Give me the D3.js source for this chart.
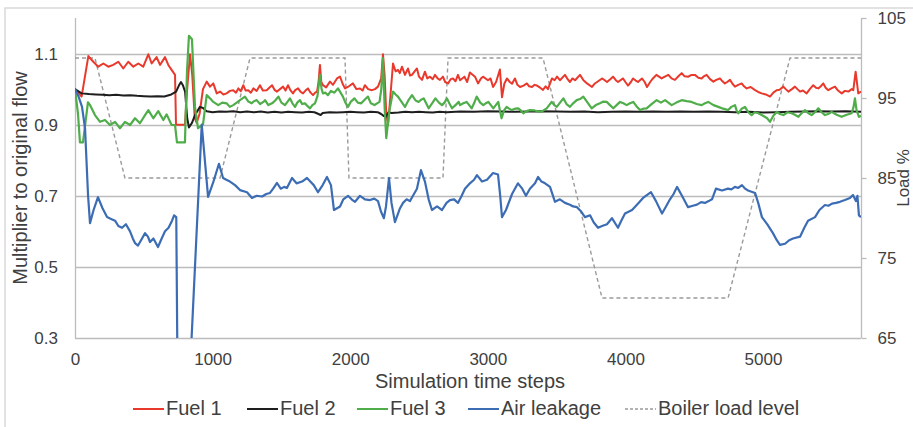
<!DOCTYPE html>
<html><head><meta charset="utf-8">
<script src="https://cdn.jsdelivr.net/npm/d3@7"></script>
<style>
body{margin:0;background:#fff}
svg{display:block}
text{font-family:"Liberation Sans",Arial,sans-serif;fill:#404040}
</style>
</head><body>
<svg id="c" width="913" height="427"></svg>
<script>
// ---------- DATA ----------
const xTicks = [0, 1000, 2000, 3000, 4000, 5000];
const leftTicks = [0.3, 0.5, 0.7, 0.9, 1.1];
const rightTicks = [65, 75, 85, 95, 105];
const xTitle = "Simulation time steps";
const yLeftTitle = "Multiplier to original flow";
const yRightTitle = "Load %";
const seriesNames = ["Fuel 1", "Fuel 2", "Fuel 3", "Air leakage", "Boiler load level"];

const fuel1 = [[0,1.0],[48,0.979],[97,1.093],[133,1.077],[169,1.063],[206,1.072],[242,1.063],[278,1.068],[315,1.077],[351,1.058],[387,1.077],[424,1.063],[460,1.072],[496,1.063],[533,1.098],[557,1.072],[593,1.09],[618,1.068],[654,1.09],[678,1.068],[702,1.054],[727,1.04],[734,0.9],[799,0.9],[815,1.0],[836,1.098],[852,1.04],[870,0.92],[884,0.905],[905,0.93],[930,1.0],[957,1.021],[981,1.007],[1005,1.016],[1030,0.988],[1054,0.993],[1078,0.985],[1102,0.988],[1126,0.995],[1150,0.997],[1170,0.99],[1187,1.002],[1205,0.994],[1223,1.011],[1240,0.996],[1259,0.997],[1278,0.99],[1296,1.002],[1320,0.995],[1344,1.011],[1365,0.996],[1393,0.997],[1412,1.004],[1432,1.011],[1450,0.998],[1468,0.993],[1490,1.0],[1512,1.007],[1530,0.996],[1548,1.011],[1565,0.997],[1584,0.988],[1600,0.997],[1621,1.002],[1640,0.992],[1657,0.988],[1675,0.996],[1693,1.002],[1712,0.99],[1730,0.983],[1745,0.99],[1759,0.993],[1770,1.02],[1780,1.068],[1790,1.02],[1802,1.011],[1825,1.005],[1853,1.021],[1875,1.012],[1904,1.03],[1926,1.035],[1945,1.015],[1962,1.002],[1990,1.008],[2020,1.016],[2045,1.0],[2071,1.002],[2090,0.996],[2107,1.011],[2130,1.0],[2158,0.997],[2180,1.0],[2202,1.007],[2225,1.03],[2238,1.098],[2250,1.04],[2262,0.93],[2275,0.9],[2292,0.98],[2311,1.072],[2330,1.05],[2347,1.054],[2360,1.045],[2376,1.063],[2398,1.04],[2420,1.058],[2435,1.038],[2449,1.04],[2468,1.05],[2485,1.058],[2500,1.035],[2522,1.026],[2543,1.049],[2560,1.03],[2580,1.035],[2600,1.028],[2616,1.04],[2635,1.03],[2652,1.026],[2674,1.035],[2690,1.02],[2711,1.016],[2730,1.028],[2747,1.03],[2765,1.022],[2783,1.04],[2798,1.025],[2830,1.035],[2850,1.02],[2870,1.047],[2907,1.035],[2929,1.016],[2950,1.03],[2965,1.035],[3001,1.025],[3020,1.03],[3038,1.006],[3060,1.02],[3088,1.055],[3103,0.977],[3120,1.015],[3139,1.03],[3160,1.02],[3176,1.015],[3197,1.03],[3215,1.012],[3234,1.006],[3260,1.01],[3284,1.016],[3300,1.008],[3321,1.006],[3340,1.012],[3357,1.01],[3380,1.004],[3401,0.998],[3420,1.008],[3437,1.0],[3466,1.03],[3485,1.025],[3503,1.035],[3524,1.025],[3561,1.04],[3580,1.028],[3597,1.02],[3615,1.03],[3634,1.025],[3670,1.04],[3695,1.025],[3721,1.016],[3757,1.006],[3775,1.015],[3794,1.02],[3830,1.03],[3850,1.025],[3866,1.02],[3890,1.028],[3910,1.035],[3930,1.025],[3946,1.02],[3983,1.03],[4000,1.02],[4019,1.01],[4040,1.02],[4055,1.03],[4075,1.024],[4091,1.02],[4120,1.03],[4140,1.02],[4157,1.006],[4180,1.02],[4200,1.03],[4225,1.04],[4263,1.03],[4290,1.036],[4312,1.04],[4335,1.03],[4360,1.026],[4385,1.036],[4409,1.045],[4430,1.036],[4457,1.035],[4480,1.04],[4505,1.04],[4530,1.032],[4554,1.03],[4570,1.036],[4590,1.04],[4615,1.028],[4639,1.021],[4660,1.026],[4687,1.03],[4705,1.022],[4723,1.016],[4740,1.02],[4760,1.026],[4778,1.015],[4796,1.007],[4820,1.012],[4845,1.016],[4862,1.008],[4881,1.002],[4910,1.006],[4942,0.997],[4965,0.992],[4990,0.988],[5020,0.985],[5051,0.979],[5075,0.99],[5099,0.997],[5120,0.998],[5148,1.007],[5165,1.0],[5184,0.993],[5210,1.0],[5232,1.007],[5250,1.0],[5269,0.993],[5290,0.996],[5317,0.988],[5340,1.0],[5365,1.011],[5385,1.004],[5402,1.002],[5420,1.008],[5438,1.016],[5455,1.004],[5474,0.997],[5500,1.003],[5523,1.007],[5545,0.996],[5572,0.988],[5595,0.995],[5620,0.993],[5645,1.0],[5656,0.997],[5673,1.049],[5692,0.988],[5712,0.993]];

const fuel2 = [[0,1.0],[48,0.988],[100,0.986],[150,0.985],[200,0.984],[250,0.983],[300,0.984],[350,0.982],[400,0.983],[450,0.981],[500,0.98],[550,0.979],[600,0.98],[650,0.979],[700,0.985],[735,0.993],[755,1.01],[770,1.02],[785,1.01],[800,0.993],[815,0.92],[828,0.892],[850,0.905],[872,0.927],[908,0.95],[930,0.947],[957,0.938],[1000,0.935],[1050,0.937],[1100,0.936],[1150,0.938],[1200,0.935],[1250,0.937],[1300,0.935],[1350,0.937],[1400,0.934],[1450,0.936],[1500,0.934],[1550,0.936],[1600,0.935],[1650,0.934],[1700,0.936],[1740,0.935],[1770,0.93],[1785,0.927],[1800,0.933],[1850,0.935],[1900,0.934],[1950,0.935],[2000,0.936],[2050,0.935],[2100,0.934],[2150,0.936],[2200,0.935],[2225,0.93],[2245,0.924],[2260,0.922],[2278,0.935],[2300,0.933],[2350,0.934],[2400,0.936],[2450,0.935],[2500,0.936],[2550,0.935],[2600,0.934],[2650,0.936],[2700,0.935],[2800,0.937],[2900,0.936],[3000,0.938],[3100,0.937],[3200,0.936],[3300,0.937],[3400,0.938],[3500,0.937],[3600,0.936],[3700,0.937],[3800,0.935],[3900,0.936],[4000,0.937],[4100,0.936],[4200,0.937],[4300,0.936],[4400,0.937],[4500,0.936],[4600,0.937],[4700,0.936],[4800,0.935],[4900,0.936],[5000,0.934],[5100,0.935],[5200,0.936],[5300,0.937],[5400,0.938],[5500,0.937],[5600,0.938],[5712,0.936]];

const fuel3 = [[0,1.0],[22,0.93],[36,0.85],[58,0.85],[94,0.963],[109,0.955],[145,0.927],[182,0.908],[218,0.913],[254,0.899],[291,0.908],[327,0.89],[363,0.908],[400,0.899],[436,0.918],[472,0.904],[509,0.927],[533,0.941],[569,0.918],[605,0.938],[642,0.913],[666,0.929],[702,0.899],[727,0.899],[741,0.85],[799,0.85],[814,1.05],[828,1.15],[850,1.14],[872,0.95],[894,0.89],[930,0.9],[957,0.983],[981,0.974],[1005,0.964],[1041,0.955],[1070,0.962],[1102,0.96],[1125,0.95],[1150,0.955],[1175,0.962],[1199,0.969],[1235,0.979],[1260,0.965],[1284,0.96],[1300,0.966],[1320,0.969],[1345,0.958],[1369,0.964],[1381,0.969],[1405,0.955],[1432,0.96],[1455,0.968],[1478,0.979],[1500,0.962],[1526,0.955],[1545,0.965],[1562,0.974],[1580,0.96],[1599,0.95],[1615,0.962],[1635,0.969],[1650,0.958],[1671,0.96],[1690,0.952],[1708,0.946],[1725,0.955],[1744,0.96],[1762,0.98],[1780,1.04],[1792,1.0],[1802,0.988],[1820,0.99],[1838,0.983],[1860,0.995],[1885,0.99],[1911,1.002],[1930,0.99],[1947,0.979],[1965,0.962],[1984,0.95],[2005,0.965],[2031,0.974],[2055,0.962],[2080,0.96],[2105,0.97],[2129,0.979],[2150,0.96],[2177,0.955],[2195,0.96],[2213,0.964],[2226,1.0],[2238,1.087],[2250,0.95],[2262,0.862],[2285,0.94],[2311,0.993],[2330,0.985],[2347,0.979],[2372,0.965],[2398,0.95],[2425,0.97],[2449,0.983],[2475,0.968],[2497,0.964],[2515,0.97],[2534,0.974],[2552,0.96],[2570,0.946],[2595,0.96],[2619,0.974],[2645,0.962],[2667,0.955],[2685,0.962],[2703,0.974],[2720,0.96],[2740,0.946],[2765,0.955],[2789,0.964],[2798,0.955],[2822,0.96],[2846,0.964],[2865,0.955],[2883,0.946],[2900,0.96],[2919,0.979],[2945,0.962],[2967,0.955],[2985,0.96],[3004,0.964],[3022,0.955],[3040,0.946],[3058,0.955],[3076,0.964],[3088,0.94],[3100,0.918],[3118,0.94],[3137,0.95],[3155,0.945],[3173,0.941],[3198,0.945],[3221,0.946],[3240,0.94],[3258,0.932],[3282,0.938],[3306,0.941],[3340,0.94],[3379,0.936],[3405,0.94],[3428,0.946],[3446,0.955],[3464,0.964],[3483,0.955],[3501,0.95],[3525,0.962],[3549,0.974],[3572,0.958],[3597,0.95],[3620,0.96],[3646,0.969],[3670,0.972],[3694,0.979],[3725,0.962],[3755,0.946],[3785,0.955],[3815,0.96],[3840,0.965],[3864,0.964],[3888,0.955],[3912,0.946],[3936,0.955],[3961,0.964],[3985,0.96],[4009,0.955],[4033,0.96],[4057,0.964],[4080,0.952],[4106,0.941],[4130,0.945],[4154,0.946],[4190,0.958],[4227,0.969],[4258,0.962],[4288,0.969],[4312,0.962],[4336,0.955],[4370,0.962],[4409,0.969],[4445,0.966],[4481,0.964],[4518,0.958],[4554,0.955],[4578,0.96],[4602,0.964],[4640,0.955],[4675,0.95],[4710,0.945],[4747,0.941],[4770,0.95],[4796,0.955],[4808,0.94],[4820,0.932],[4845,0.945],[4869,0.95],[4893,0.935],[4917,0.927],[4940,0.935],[4966,0.932],[5000,0.925],[5030,0.918],[5051,0.908],[5075,0.925],[5099,0.936],[5123,0.93],[5148,0.927],[5178,0.935],[5208,0.932],[5232,0.928],[5257,0.922],[5280,0.932],[5305,0.941],[5330,0.932],[5353,0.927],[5378,0.935],[5402,0.946],[5426,0.935],[5450,0.927],[5474,0.93],[5498,0.936],[5535,0.928],[5571,0.922],[5608,0.928],[5644,0.932],[5658,0.95],[5668,0.974],[5680,0.94],[5697,0.922],[5712,0.925]];

const airLeakage = [[0,1.0],[25,0.98],[51,0.95],[73,0.89],[95,0.7],[109,0.623],[135,0.66],[167,0.696],[200,0.665],[233,0.64],[262,0.635],[291,0.63],[315,0.615],[342,0.61],[370,0.62],[400,0.6],[420,0.58],[436,0.567],[458,0.56],[480,0.575],[509,0.595],[530,0.585],[545,0.57],[570,0.58],[603,0.556],[630,0.58],[654,0.6],[680,0.61],[705,0.63],[720,0.645],[736,0.64],[745,0.2],[835,0.2],[921,0.9],[967,0.697],[1003,0.736],[1046,0.79],[1076,0.75],[1100,0.745],[1126,0.74],[1163,0.73],[1199,0.716],[1250,0.71],[1286,0.694],[1320,0.7],[1360,0.698],[1390,0.705],[1417,0.708],[1440,0.72],[1468,0.736],[1495,0.72],[1520,0.725],[1540,0.722],[1577,0.75],[1610,0.735],[1650,0.74],[1686,0.75],[1710,0.74],[1735,0.73],[1766,0.71],[1800,0.73],[1831,0.753],[1860,0.73],[1882,0.66],[1926,0.67],[1950,0.69],[1984,0.70],[2010,0.69],[2035,0.683],[2071,0.70],[2107,0.69],[2144,0.688],[2175,0.692],[2202,0.685],[2224,0.655],[2245,0.637],[2260,0.67],[2282,0.75],[2300,0.68],[2325,0.626],[2362,0.665],[2384,0.68],[2410,0.69],[2434,0.685],[2456,0.70],[2485,0.72],[2514,0.772],[2543,0.74],[2570,0.69],[2594,0.66],[2631,0.67],[2667,0.66],[2700,0.68],[2725,0.688],[2755,0.69],[2783,0.68],[2810,0.7],[2834,0.72],[2870,0.735],[2900,0.745],[2921,0.758],[2958,0.74],[2994,0.745],[3038,0.764],[3074,0.76],[3090,0.7],[3103,0.64],[3132,0.66],[3176,0.705],[3219,0.735],[3250,0.72],[3277,0.70],[3306,0.72],[3343,0.735],[3365,0.753],[3390,0.74],[3416,0.735],[3452,0.725],[3488,0.683],[3524,0.69],[3561,0.68],[3597,0.675],[3620,0.67],[3648,0.668],[3680,0.655],[3706,0.64],[3743,0.645],[3770,0.625],[3801,0.61],[3830,0.615],[3866,0.62],[3902,0.637],[3946,0.61],[3970,0.63],[3997,0.65],[4048,0.66],[4084,0.675],[4128,0.694],[4186,0.71],[4222,0.685],[4266,0.65],[4295,0.67],[4324,0.69],[4350,0.705],[4375,0.725],[4411,0.70],[4455,0.668],[4490,0.672],[4520,0.675],[4550,0.682],[4578,0.68],[4605,0.685],[4629,0.69],[4658,0.72],[4702,0.715],[4745,0.72],[4770,0.718],[4796,0.725],[4820,0.722],[4847,0.73],[4870,0.72],[4891,0.715],[4942,0.708],[4965,0.68],[4992,0.64],[5030,0.62],[5072,0.595],[5100,0.575],[5123,0.562],[5160,0.565],[5190,0.575],[5218,0.58],[5269,0.585],[5300,0.61],[5327,0.63],[5378,0.64],[5410,0.66],[5450,0.674],[5475,0.672],[5501,0.678],[5530,0.68],[5559,0.683],[5595,0.688],[5632,0.694],[5654,0.702],[5675,0.685],[5686,0.70],[5697,0.645],[5712,0.64]];

const boilerLoad = [[0,100],[145,100],[363,85],[1054,85],[1272,100],[1962,100],[1991,85],[2674,85],[2711,100],[3401,100],[3830,70],[4746,70],[5196,100],[5712,100]];

// ---------- LAYOUT ----------
const L = 75, R = 861, T = 18, B = 338;
const svg = d3.select("#c");

const x = d3.scaleLinear().domain([0, 5712]).range([L, R]);
const yL = d3.scaleLinear().domain([0.3, 1.2]).range([B, T]);
const yR = d3.scaleLinear().domain([65, 105]).range([B, T]);

// outer frame
svg.append("path").attr("d", "M5,427 V8 H913").attr("fill", "none").attr("stroke", "#d9d9d9").attr("stroke-width", 1.5);

// gridlines
svg.append("g").selectAll("line").data(leftTicks).join("line")
  .attr("x1", L).attr("x2", R)
  .attr("y1", d => Math.round(yL(d)) + 0.5).attr("y2", d => Math.round(yL(d)) + 0.5)
  .attr("stroke", "#bcbcbc").attr("stroke-width", 1.3);

// left axis line
svg.append("line").attr("x1", L + 0.5).attr("x2", L + 0.5).attr("y1", T).attr("y2", B)
  .attr("stroke", "#bcbcbc").attr("stroke-width", 1.3);

// right axis
const rAxis = d3.axisRight(yR).tickValues(rightTicks).tickSize(5).tickPadding(11).tickFormat(d3.format("d"));
const rg = svg.append("g").attr("transform", `translate(${R + 0.5},0)`).call(rAxis);
rg.selectAll("path,line").attr("stroke", "#bcbcbc").attr("stroke-width", 1.3);
rg.select(".domain").attr("d", `M0,${T}V${B}`);
rg.selectAll("text").attr("font-size", 17).attr("fill", "#404040").style("font-family", '"Liberation Sans",Arial,sans-serif');

// left axis tick labels
const lAxis = d3.axisLeft(yL).tickValues(leftTicks).tickSize(0).tickPadding(17).tickFormat(d3.format(".1f"));
const lg = svg.append("g").attr("transform", `translate(${L},0)`).call(lAxis);
lg.select(".domain").remove();
lg.selectAll("text").attr("font-size", 17).attr("fill", "#404040").style("font-family", '"Liberation Sans",Arial,sans-serif');

// bottom axis labels
const bAxis = d3.axisBottom(x).tickValues(xTicks).tickSize(0).tickPadding(15).tickFormat(d3.format("d"));
const bg = svg.append("g").attr("transform", `translate(0,${B})`).call(bAxis);
bg.select(".domain").remove();
bg.selectAll("text").attr("font-size", 17).attr("fill", "#404040").style("font-family", '"Liberation Sans",Arial,sans-serif');

// titles
svg.append("text").attr("x", 470).attr("y", 388).attr("text-anchor", "middle").attr("font-size", 20).text(xTitle);
svg.append("text").attr("transform", `translate(27,${(T + B) / 2}) rotate(-90)`).attr("text-anchor", "middle").attr("font-size", 20).text(yLeftTitle);
svg.append("text").attr("transform", `translate(909,${(T + B) / 2}) rotate(-90)`).attr("text-anchor", "middle").attr("font-size", 17).text(yRightTitle);

// clip
svg.append("clipPath").attr("id", "plot").append("rect").attr("x", L).attr("y", T - 2).attr("width", R - L).attr("height", B - T + 2);

const gL = svg.append("g").attr("clip-path", "url(#plot)");
const lineL = d3.line().x(d => x(d[0])).y(d => yL(d[1]));
const lineR = d3.line().x(d => x(d[0])).y(d => yR(d[1]));

const colors = { f1: "#e8392c", f2: "#1e1e1e", f3: "#4fad4a", air: "#3c6db4", load: "#9a9a9a" };

gL.append("path").datum(boilerLoad).attr("d", lineR).attr("fill", "none")
  .attr("stroke", colors.load).attr("stroke-width", 1.4).attr("stroke-dasharray", "4,3");
gL.append("path").datum(fuel1).attr("d", lineL).attr("fill", "none").attr("stroke", colors.f1).attr("stroke-width", 2).attr("stroke-linejoin", "round");
gL.append("path").datum(fuel2).attr("d", lineL).attr("fill", "none").attr("stroke", colors.f2).attr("stroke-width", 2).attr("stroke-linejoin", "round");
gL.append("path").datum(fuel3).attr("d", lineL).attr("fill", "none").attr("stroke", colors.f3).attr("stroke-width", 2.2).attr("stroke-linejoin", "round");
gL.append("path").datum(airLeakage).attr("d", lineL).attr("fill", "none").attr("stroke", colors.air).attr("stroke-width", 2.2).attr("stroke-linejoin", "round");

// legend
const legendItems = [
  { name: seriesNames[0], c: colors.f1, x: 133, dash: null },
  { name: seriesNames[1], c: colors.f2, x: 247, dash: null },
  { name: seriesNames[2], c: colors.f3, x: 357, dash: null },
  { name: seriesNames[3], c: colors.air, x: 468, dash: null },
  { name: seriesNames[4], c: colors.load, x: 625, dash: "3,2" }
];
const lgd = svg.append("g");
legendItems.forEach(it => {
  lgd.append("line").attr("x1", it.x).attr("x2", it.x + 31).attr("y1", 409).attr("y2", 409)
    .attr("stroke", it.c).attr("stroke-width", it.dash ? 1.4 : 2).attr("stroke-dasharray", it.dash);
  lgd.append("text").attr("x", it.x + 33).attr("y", 415).attr("font-size", 20).text(it.name);
});
</script>
</body></html>
